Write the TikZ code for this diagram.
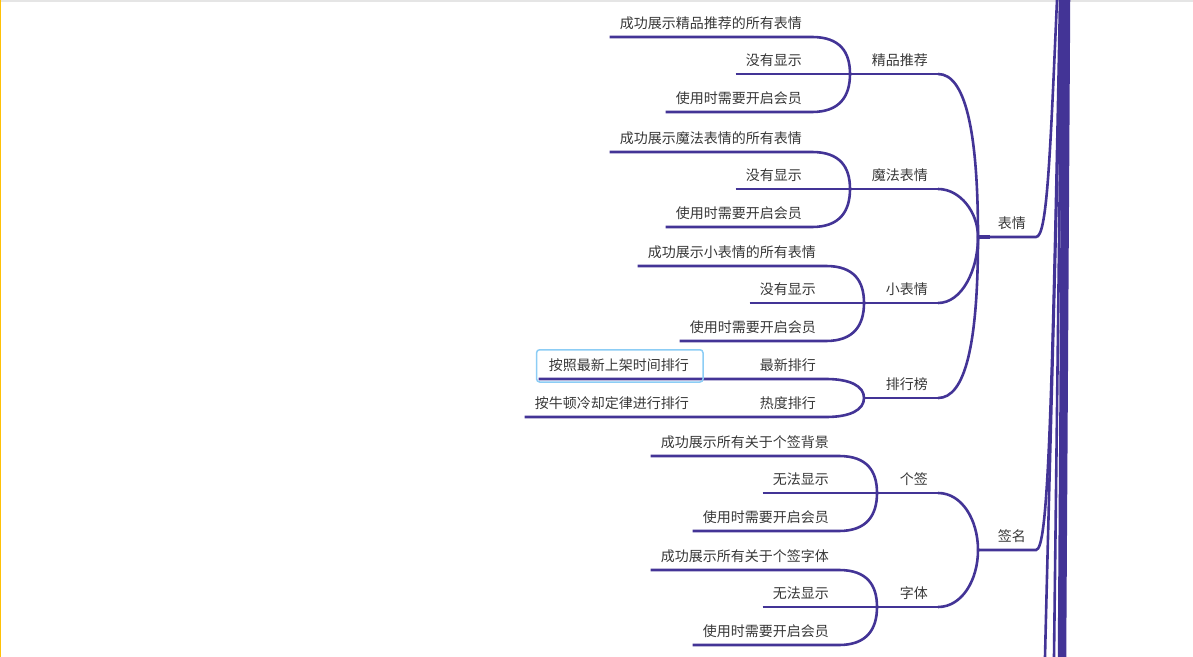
\documentclass[tikz,border=0pt]{standalone}
\usepackage{fontspec}
\newfontfamily\cjk{Noto Sans CJK SC}
\usepackage{xcolor}
\definecolor{branch}{RGB}{67,52,150}
\definecolor{txt}{RGB}{55,55,55}
\definecolor{pick}{RGB}{140,205,245}
\definecolor{edgeY}{RGB}{255,193,7}
\tikzset{
  leaf/.style={font={\cjk\fontsize{14bp}{17bp}\selectfont}, text=txt,
               inner xsep=10bp, inner ysep=7bp, text depth=1bp,
               anchor=south east},
  link/.style={draw=branch, line width=2.6bp},
}
\usetikzlibrary{positioning}

\begin{document}
\begin{tikzpicture}[x=1bp,y=-1bp]
  \useasboundingbox (0,0) rectangle (1193,657);
  \draw[gray!20, line width=1.5bp] (0,1) -- (1193,1);
  \draw[edgeY, line width=1.5bp] (0.75,0) -- (0.75,657);

  % three leaves on one junction, plus their parent
  \def\trio#1(#2,#3)#4#5#6#7{%
    \coordinate (#1) at (#2,#3);
    \node[leaf] (#1-a) at (#2-38,#3-37) {#4};
    \node[leaf] (#1-b) at (#2-38,#3) {#5};
    \node[leaf] (#1-c) at (#2-38,#3+38) {#6};
    \node[leaf] (#1-n) at (938,#3) {#7};
    \draw[link] (#1-a.south west) -- (#1-a.south east) .. controls +(28,0) and +(0,-22) .. (#1);
    \draw[link] (#1-b.south west) -- (#1);
    \draw[link] (#1-c.south west) -- (#1-c.south east) .. controls +(28,0) and +(0,22) .. (#1);
    \draw[link] (#1) -- (#1-n.south east);
  }

  % bundle going to the root
  \draw[link] (1045,657) .. controls (1050,450) and (1056,250) .. (1061,0);
  \draw[link] (1054,657) -- (1062,0);
  \draw[branch, line width=8.5bp] (1062,657) -- (1066,0);

  \trio{jp}(850,74){成功展示精品推荐的所有表情}{没有显示}{使用时需要开启会员}{精品推荐}
  \trio{mf}(850,189){成功展示魔法表情的所有表情}{没有显示}{使用时需要开启会员}{魔法表情}
  \trio{xb}(864,303){成功展示小表情的所有表情}{没有显示}{使用时需要开启会员}{小表情}
  \trio{gq}(877,493){成功展示所有关于个签背景}{无法显示}{使用时需要开启会员}{个签}
  \trio{zt}(877,607){成功展示所有关于个签字体}{无法显示}{使用时需要开启会员}{字体}

  % ranking
  \coordinate (ph) at (864,398);
  \node[leaf] (ph-a) at (826,379) {最新排行};
  \node[leaf] (ph-b) at (826,417) {热度排行};
  \node[leaf] (ph-aa) at (699,379) {按照最新上架时间排行};
  \node[leaf] (ph-ba) at (699,417) {按牛顿冷却定律进行排行};
  \node[leaf] (ph-n) at (938,398) {排行榜};
  \draw[link] (ph-aa.south west) -- (ph-a.south east) .. controls +(24,0) and +(0,-12) .. (ph);
  \draw[link] (ph-ba.south west) -- (ph-b.south east) .. controls +(24,0) and +(0,12) .. (ph);
  \draw[link] (ph) -- (ph-n.south east);
  \draw[pick, line width=1.5bp, rounded corners=3bp]
    ([shift={(-2,3)}]ph-aa.south west) rectangle ([shift={(4,-2)}]ph-aa.north east);

  % first level
  \coordinate (bq-j) at (978,237);
  \coordinate (qm-j) at (978,550);
  \coordinate (top-a) at (1057,0);
  \coordinate (top-b) at (1060,0);
  \node[leaf] (bq) at (1036,237) {表情};
  \node[leaf] (qm) at (1036,550) {签名};
  \draw[link] (jp-n.south east) .. controls +(27,0) and +(0,-107) .. (bq-j);
  \draw[link] (mf-n.south east) .. controls +(22,0) and +(0,-25) .. (bq-j);
  \draw[link] (xb-n.south east) .. controls +(24,0) and +(0,33) .. (bq-j);
  \draw[link] (ph-n.south east) .. controls +(27,0) and +(0,108) .. (bq-j);
  \draw[link] (gq-n.south east) .. controls +(24,0) and +(0,-30) .. (qm-j);
  \draw[link] (zt-n.south east) .. controls +(24,0) and +(0,30) .. (qm-j);
  \draw[link] (bq-j) -- (bq.south east) .. controls +(11,0) and +(-7,160) .. (top-a);
  \draw[link] (qm-j) -- (qm.south east) .. controls +(12,0) and +(-8,420) .. (top-b);
  \draw[branch, line width=4bp] (bq-j) -- ++(12,0);
\end{tikzpicture}
\end{document}
